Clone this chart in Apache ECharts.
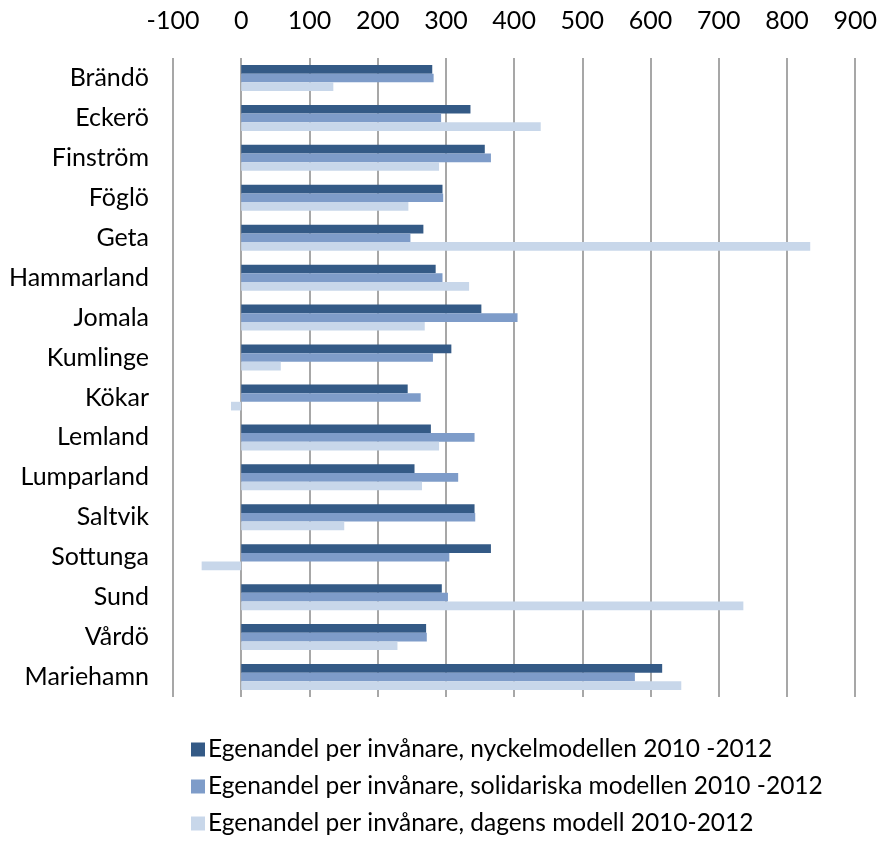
<!DOCTYPE html>
<html>
<head>
<meta charset="utf-8">
<title>Egenandel per invånare</title>
<script src="https://cdn.jsdelivr.net/npm/echarts@6/dist/echarts.min.js"></script>
<style>
  html, body { margin: 0; padding: 0; background: #ffffff; }
  #chart { width: 880px; height: 841px; }
</style>
</head>
<body>
<div id="chart"></div>
<script>
// Municipalities, top to bottom
const kommuner = ['Brändö', 'Eckerö', 'Finström', 'Föglö', 'Geta', 'Hammarland', 'Jomala', 'Kumlinge',
  'Kökar', 'Lemland', 'Lumparland', 'Saltvik', 'Sottunga', 'Sund', 'Vårdö', 'Mariehamn'];

const seriesNames = [
  'Egenandel per invånare, nyckelmodellen 2010 -2012',
  'Egenandel per invånare, solidariska modellen 2010 -2012',
  'Egenandel per invånare, dagens modell 2010-2012'
];

// Egenandel per invånare (euro)
const nyckelmodellen = [280, 336, 357, 295, 267, 285, 352, 308, 244, 278, 254, 342, 366, 294, 271, 617];
const solidariska    = [282, 293, 366, 296, 248, 295, 405, 281, 263, 342, 318, 343, 305, 303, 272, 577];
const dagensModell   = [135, 439, 290, 245, 834, 334, 269, 58, -15, 290, 265, 151, -58, 736, 229, 645];

// Value axis ticks
const axisMin = -100, axisMax = 900, axisStep = 100;

const colors = ['#345A86', '#7E9CC9', '#C8D7EA'];
const fontFamily = 'Lato, "Open Sans", sans-serif';

const chart = echarts.init(document.getElementById('chart'), null, { renderer: 'canvas' });

const makeSeries = (name, data, color) => ({
  name: name,
  type: 'bar',
  data: data,
  barGap: '0%',
  barCategoryGap: '35%',
  itemStyle: { color: color },
  emphasis: { disabled: true }
});

chart.setOption({
  animation: false,
  color: colors,
  textStyle: { fontFamily: fontFamily },
  grid: { left: 173, right: 23, top: 58, bottom: 144, containLabel: false },
  legend: {
    orient: 'vertical',
    left: 186,
    top: 732,
    itemWidth: 14,
    itemHeight: 14,
    itemGap: 12,
    icon: 'rect',
    textStyle: { fontSize: 24.5, color: '#000', fontFamily: fontFamily, padding: [0, 0, 0, -2] },
    data: seriesNames
  },
  xAxis: {
    type: 'value',
    position: 'top',
    min: axisMin,
    max: axisMax,
    interval: axisStep,
    axisLine: { show: false },
    axisTick: { show: false },
    axisLabel: { fontSize: 25, color: '#000', margin: 25, fontFamily: fontFamily },
    splitLine: { show: true, lineStyle: { color: '#8A8A8A', width: 1.5 } }
  },
  yAxis: {
    type: 'category',
    data: kommuner,
    inverse: true,
    axisLine: { show: false },
    axisTick: { show: false },
    axisLabel: { fontSize: 25, color: '#000', margin: 24, fontFamily: fontFamily },
    splitLine: { show: false }
  },
  series: [
    makeSeries(seriesNames[0], nyckelmodellen, colors[0]),
    makeSeries(seriesNames[1], solidariska, colors[1]),
    makeSeries(seriesNames[2], dagensModell, colors[2])
  ]
});
</script>
</body>
</html>
